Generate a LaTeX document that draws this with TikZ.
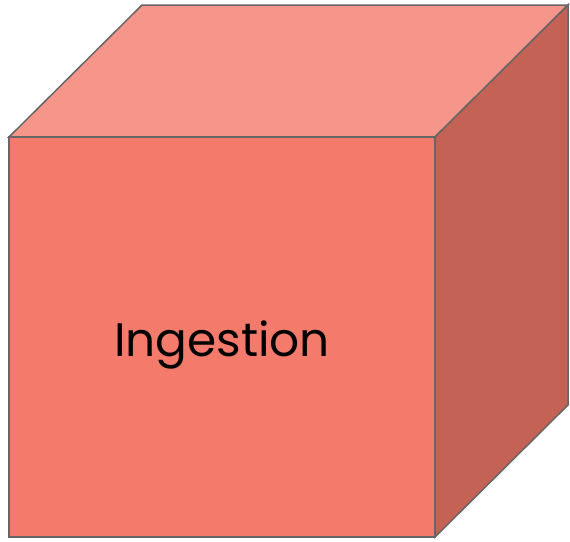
\documentclass[tikz,border=0pt]{standalone}
\usepackage{fontspec}
\setmainfont{Poppins}
\definecolor{frontc}{HTML}{F47B6B}
\definecolor{topc}{HTML}{F6968A}
\definecolor{sidec}{HTML}{C46255}
\definecolor{edgec}{HTML}{666666}
\begin{document}
\begin{tikzpicture}[x=1pt,y=-1pt,
  face/.style={draw=edgec,line width=1.5pt,line join=miter}]
\useasboundingbox (0,0) rectangle (570,541);
\fill[white] (0,0) rectangle (570,541);
\coordinate (A) at (9,137);
\coordinate (B) at (435,137);
\coordinate (C) at (435,537);
\coordinate (D) at (9,537);
\coordinate (E) at (142,5);
\coordinate (F) at (568,5);
\coordinate (G) at (568,405);
\draw[face,fill=topc] (A) -- (E) -- (F) -- (B) -- cycle;
\draw[face,fill=sidec] (B) -- (F) -- (G) -- (C) -- cycle;
\draw[face,fill=frontc] (A) -- (B) -- (C) -- (D) -- cycle;
\node[font=\fontsize{47}{56}\selectfont,text=black,inner sep=0pt,anchor=base] (label) at (222,356) {Ingestion};
\end{tikzpicture}
\end{document}
